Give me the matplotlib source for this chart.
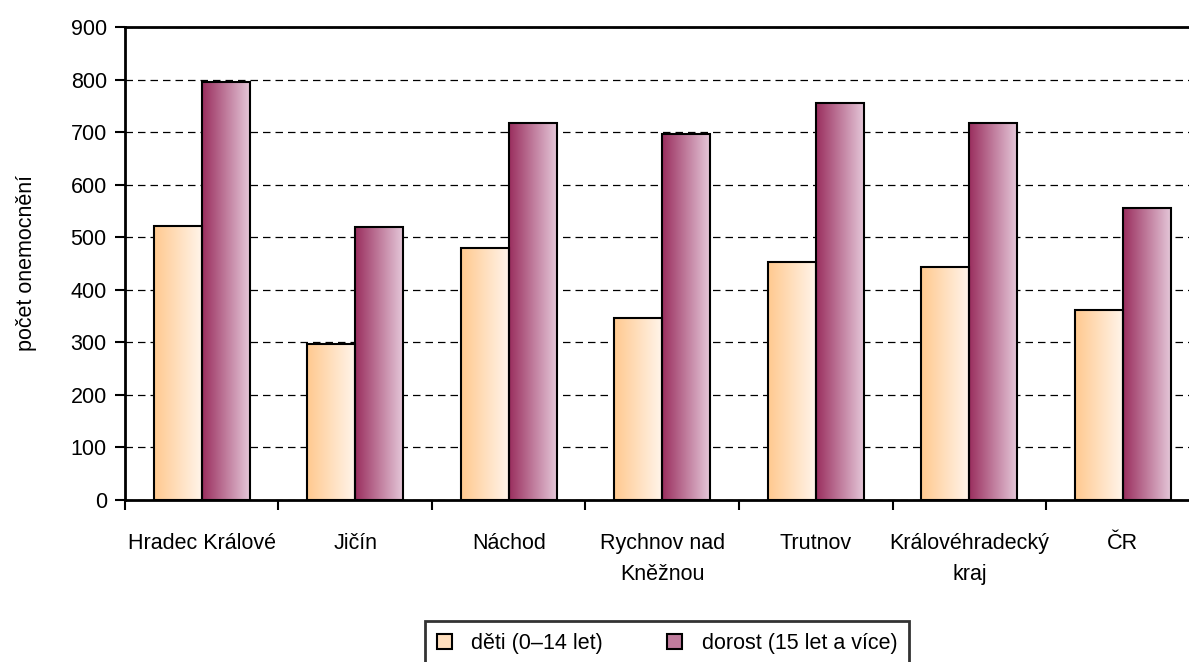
import numpy as np
import matplotlib
matplotlib.use("Agg")
from matplotlib import pyplot as plt
from matplotlib.patches import Rectangle
from matplotlib.colors import LinearSegmentedColormap

#Data
categories = ["Hradec Králové", "Jičín", "Náchod", "Rychnov nad\nKněžnou",
              "Trutnov", "Královéhradecký\nkraj", "ČR"]
deti = [522, 296, 480, 347, 453, 443, 362]
dorost = [795, 519, 718, 696, 755, 717, 555]
series_names = ["děti (0–14 let)", "dorost (15 let a více)"]

plt.rcParams['font.family'] = ['Liberation Sans Narrow', 'Liberation Sans', 'DejaVu Sans']
fs = 15.5

cmap_deti = LinearSegmentedColormap.from_list("deti", ["#ffc98f", "#fff5ec"])
cmap_dor = LinearSegmentedColormap.from_list("dor", ["#9a2e5e", "#e6cadb"])

fig = plt.figure(figsize=(11.89, 6.62), dpi=100)
# plot area runs a bit past the right edge, as in the original
ax = fig.add_axes([0.105, 0.245, 0.904, 0.714])

x = np.arange(len(categories))
w = 0.313
grad = np.linspace(0, 1, 256).reshape(1, -1)

def gradient_bars(xs, vals, cmap):
    for xi, v in zip(xs, vals):
        im = ax.imshow(grad, cmap=cmap, aspect='auto', extent=[xi - w/2, xi + w/2, 0, v],
                       zorder=3, interpolation='bilinear')
        r = Rectangle((xi - w/2, 0), w, v, facecolor='none', edgecolor='black',
                      linewidth=1.5, zorder=4)
        ax.add_patch(r)
        im.set_clip_path(r)

gradient_bars(x - w/2, deti, cmap_deti)
gradient_bars(x + w/2, dorost, cmap_dor)

ax.set_xlim(-0.5, len(categories) - 0.5)
ax.set_ylim(0, 900)
ax.set_yticks(range(0, 901, 100))
ax.yaxis.grid(True, linestyle=(0, (6, 4)), color='black', linewidth=0.9)
ax.set_axisbelow(True)
ax.spines['right'].set_visible(False)
for s in ['left', 'bottom', 'top']:
    ax.spines[s].set_linewidth(2)

ax.set_xticks(x)
ax.set_xticklabels(categories, fontsize=fs, linespacing=1.64)
ax.tick_params(axis='x', length=0, pad=24)
ax.set_xticks(np.arange(-0.5, len(categories), 1), minor=True)
ax.tick_params(axis='x', which='minor', length=7, width=1.5, direction='out')
ax.tick_params(axis='y', labelsize=fs, length=7, width=1.5, direction='out', pad=6)
ax.set_ylabel("počet onemocnění", fontsize=fs, labelpad=24)

handles = [Rectangle((0, 0), 1, 1, facecolor=cmap_deti(0.5), edgecolor='black', linewidth=1.5),
           Rectangle((0, 0), 1, 1, facecolor=cmap_dor(0.5), edgecolor='black', linewidth=1.5)]
leg = fig.legend(handles, series_names, loc='lower center', bbox_to_anchor=(0.561, -0.022),
                 ncol=2, fontsize=fs, frameon=True, fancybox=False, edgecolor='black',
                 handlelength=0.7, handleheight=0.7, handletextpad=0.9,
                 columnspacing=3.0, borderpad=0.55)
leg.get_frame().set_linewidth(2)

fig.savefig("out.png", dpi=100)
